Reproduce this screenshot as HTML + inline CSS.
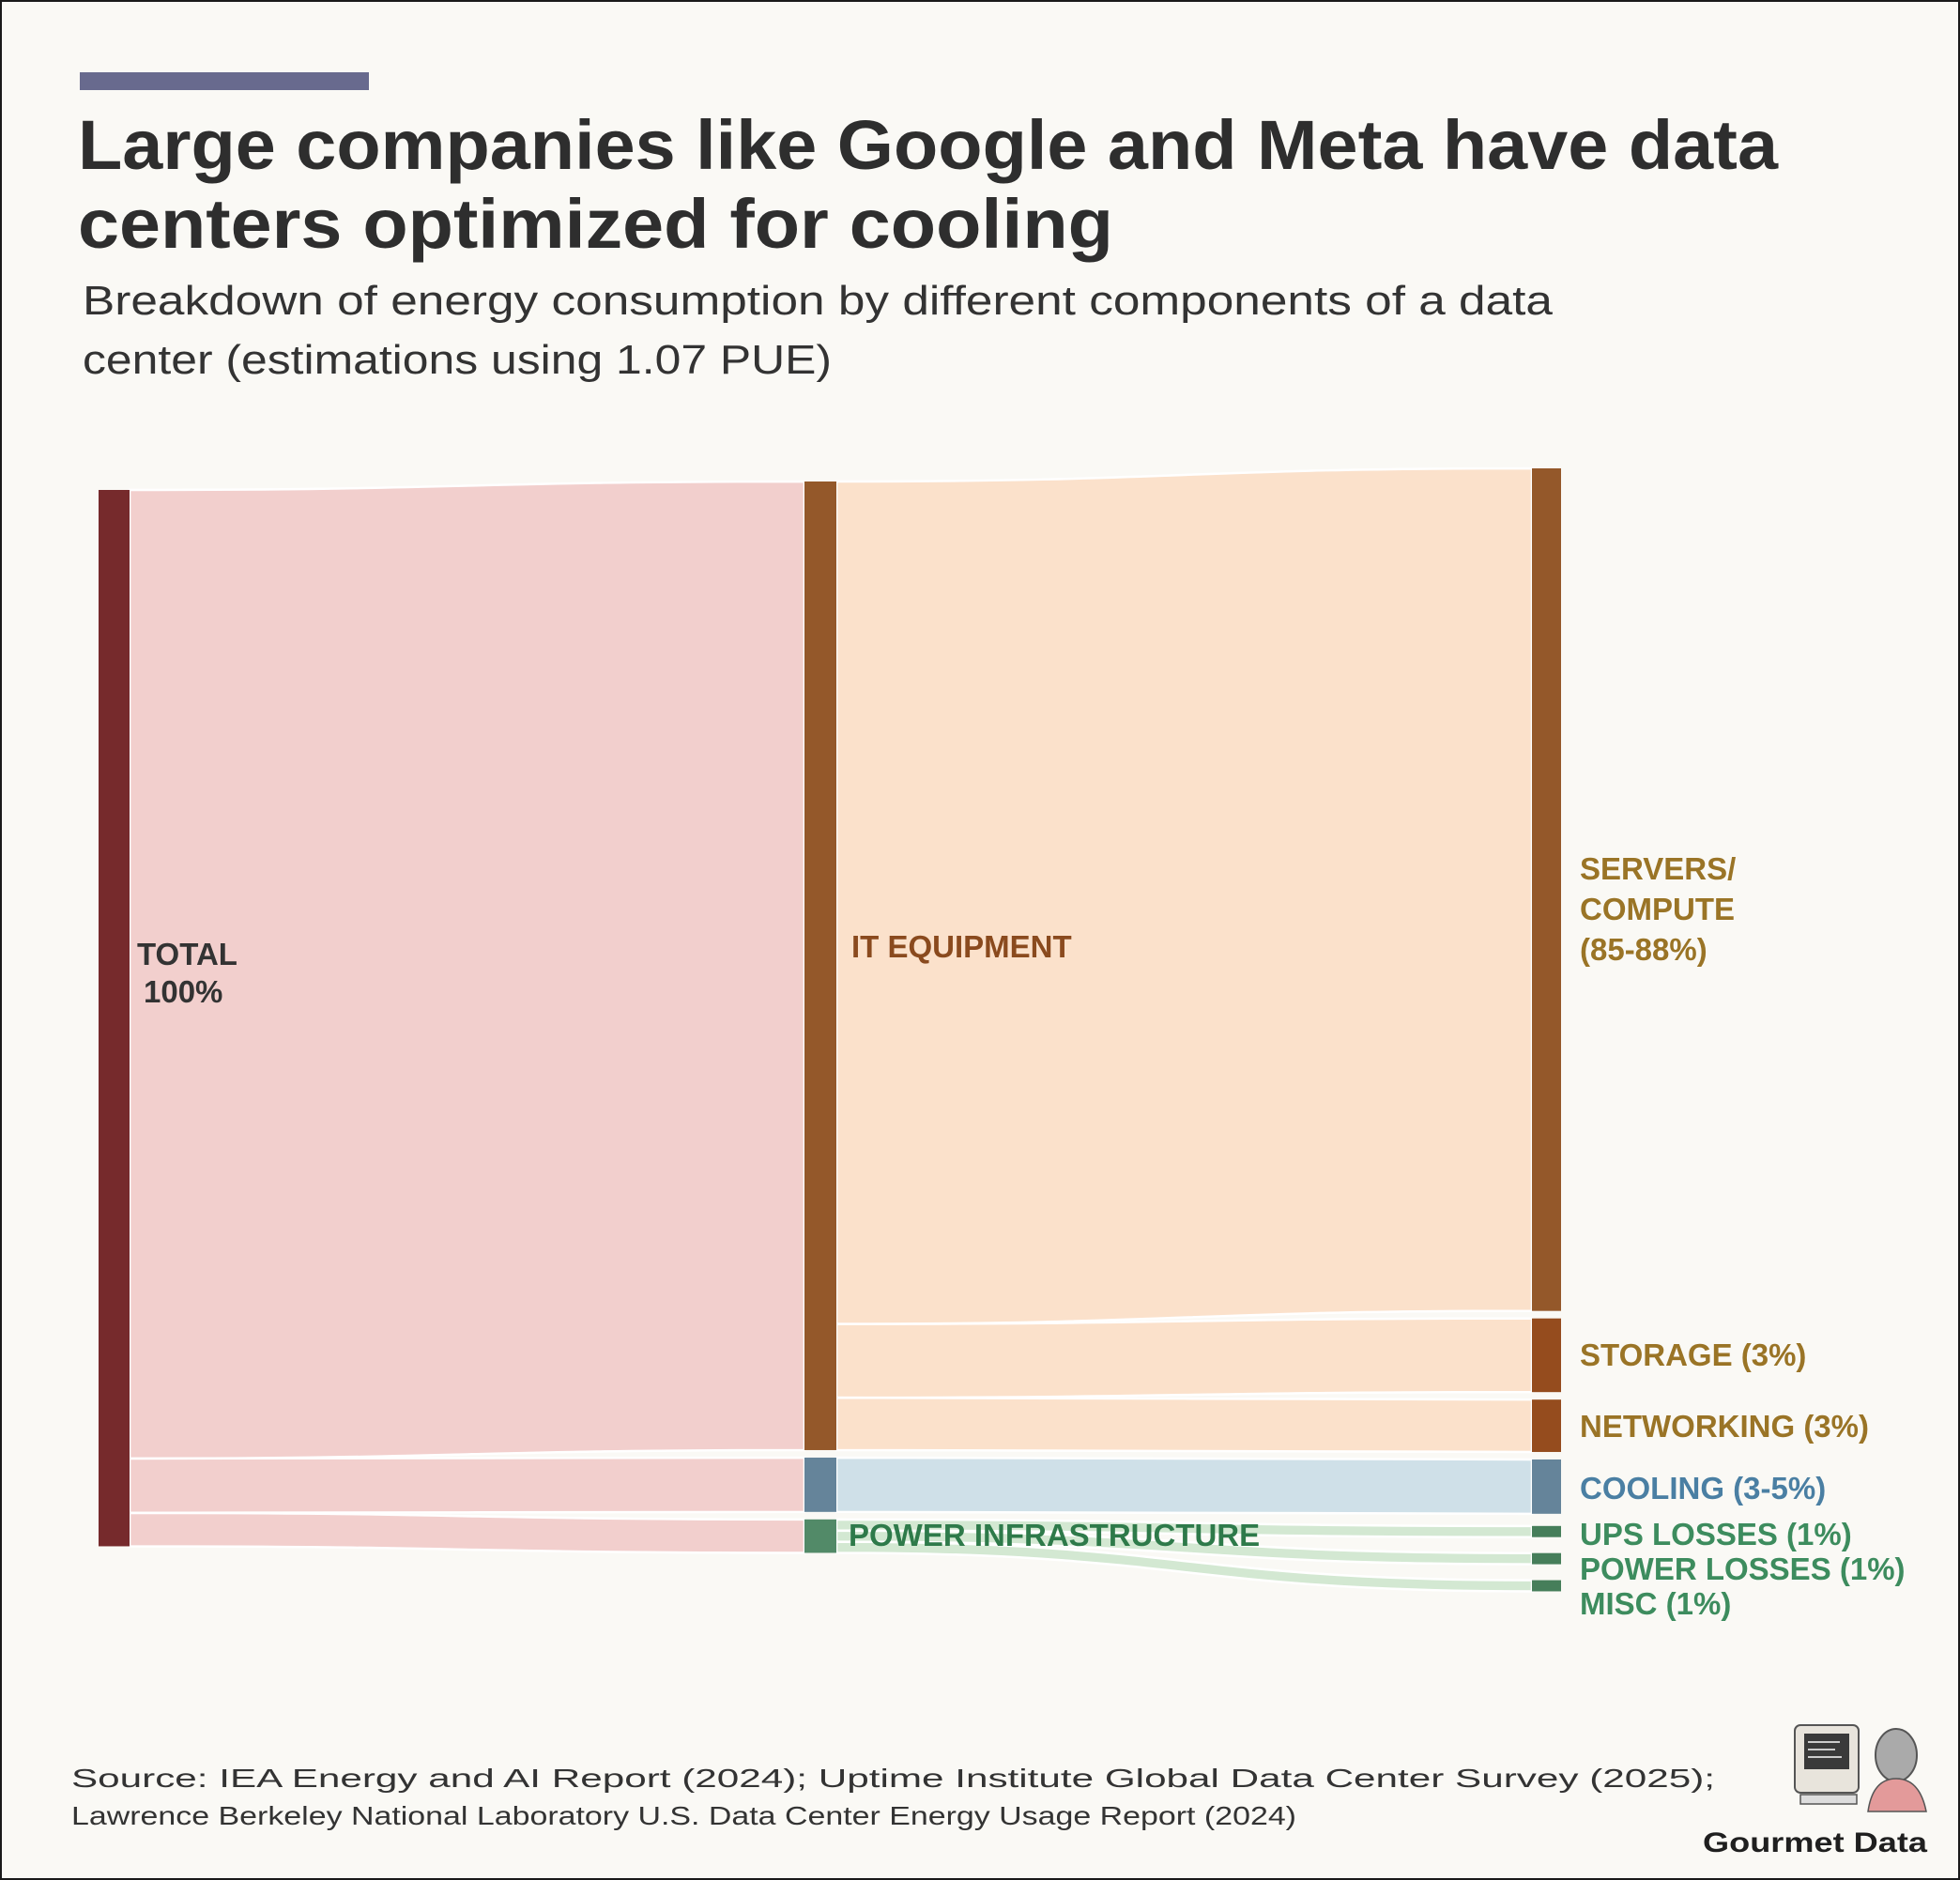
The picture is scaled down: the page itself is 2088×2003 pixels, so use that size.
<!DOCTYPE html>
<html><head><meta charset="utf-8"><style>
html,body{margin:0;padding:0;background:#faf9f5}
svg{display:block}
</style></head><body>
<svg id="chart" width="2088" height="2003" viewBox="0 0 2088 2003" xmlns="http://www.w3.org/2000/svg" font-family="'Liberation Sans', sans-serif">
<rect x="1" y="1" width="2086" height="2001" fill="#faf9f5" stroke="#1a1a1a" stroke-width="2"/>
<rect x="85" y="77" width="308" height="19" fill="#686a8e"/>
<text x="83" y="180" font-size="74" font-weight="bold" fill="#2e2e2e" textLength="1811" lengthAdjust="spacingAndGlyphs">Large companies like Google and Meta have data</text>
<text x="83" y="264" font-size="74" font-weight="bold" fill="#2e2e2e" textLength="1103" lengthAdjust="spacingAndGlyphs">centers optimized for cooling</text>
<text x="88" y="335" font-size="44" fill="#333" textLength="1566" lengthAdjust="spacingAndGlyphs">Breakdown of energy consumption by different components of a data</text>
<text x="88" y="398" font-size="44" fill="#333" textLength="798" lengthAdjust="spacingAndGlyphs">center (estimations using 1.07 PUE)</text>
<g id="links"></g>
<g id="nodes"></g>
<g font-weight="bold" font-size="33">
<text x="146" y="1028" fill="#333">TOTAL</text>
<text x="153" y="1068" fill="#333">100%</text>
<text x="907" y="1020" fill="#8a4a1e">IT EQUIPMENT</text>
<text x="904" y="1647" fill="#2e7a4a">POWER INFRASTRUCTURE</text>
<text x="1683" y="937" fill="#9a7426">SERVERS/</text>
<text x="1683" y="980" fill="#9a7426">COMPUTE</text>
<text x="1683" y="1023" fill="#9a7426">(85-88%)</text>
<text x="1683" y="1455" fill="#9a7426">STORAGE (3%)</text>
<text x="1683" y="1531" fill="#9a7426">NETWORKING (3%)</text>
<text x="1683" y="1597" fill="#4a7fa3">COOLING (3-5%)</text>
<text x="1683" y="1646" fill="#3d8c5e">UPS LOSSES (1%)</text>
<text x="1683" y="1683" fill="#3d8c5e">POWER LOSSES (1%)</text>
<text x="1683" y="1720" fill="#3d8c5e">MISC (1%)</text>
</g>
<text x="76" y="1904" font-size="28" fill="#333" textLength="1751" lengthAdjust="spacingAndGlyphs">Source: IEA Energy and AI Report (2024); Uptime Institute Global Data Center Survey (2025);</text>
<text x="76" y="1944" font-size="28" fill="#333" textLength="1305" lengthAdjust="spacingAndGlyphs">Lawrence Berkeley National Laboratory U.S. Data Center Energy Usage Report (2024)</text>
<g>
<rect x="1912" y="1838" width="68" height="72" rx="6" fill="#e8e4dc" stroke="#555" stroke-width="2"/>
<rect x="1922" y="1847" width="48" height="38" fill="#3a3a3a"/>
<line x1="1926" y1="1856" x2="1960" y2="1856" stroke="#ccc" stroke-width="2"/>
<line x1="1926" y1="1864" x2="1955" y2="1864" stroke="#ccc" stroke-width="2"/>
<line x1="1926" y1="1872" x2="1962" y2="1872" stroke="#ccc" stroke-width="2"/>
<rect x="1918" y="1912" width="60" height="10" fill="#ddd" stroke="#555" stroke-width="1.5"/>
<ellipse cx="2020" cy="1870" rx="22" ry="28" fill="#aaa" stroke="#555" stroke-width="2"/>
<path d="M1990 1930 Q1995 1895 2020 1895 Q2045 1895 2052 1930 Z" fill="#e39a9a" stroke="#555" stroke-width="1.5"/>
</g>
<text x="1814" y="1973" font-size="30" font-weight="bold" fill="#1f1f1f" textLength="239" lengthAdjust="spacingAndGlyphs">Gourmet Data</text>
</svg>
<script>
// data (units of energy share)
const nodeNames = ["Total","IT Equipment","Cooling","Power Infrastructure","Servers/Compute","Storage","Networking","Cooling Out","UPS Losses","Power Losses","Misc"];
const linkSources = [0,0,0,1,1,1,2,3,3,3];
const linkTargets = [1,2,3,4,5,6,7,8,9,10];
const linkValues = [99.9,5.6,3.45,86.9,7.6,5.4,5.6,1.15,1.15,1.15];

const NS="http://www.w3.org/2000/svg";
const K=10.33;
const colX=[105,857,1632], nodeW=[33,34,31];
const colTop=[522,513,499];
const nodeCol=[0,1,1,1,2,2,2,2,2,2,2];
const nodeFill=["#762a2c","#94582a","#65849a","#528a68","#94582a","#954c1e","#954c1e","#65849a","#467e5a","#467e5a","#467e5a"];
const linkFill=["#f2cfcd","#f2cfcd","#f2cfcd","#fbe1cb","#fbe1cb","#fbe1cb","#cfe0e8","#d3e8d2","#d3e8d2","#d3e8d2"];
const inV=nodeNames.map(()=>0), outV=nodeNames.map(()=>0);
linkValues.forEach((v,i)=>{outV[linkSources[i]]+=v;inV[linkTargets[i]]+=v;});
const val=nodeNames.map((n,i)=>Math.max(inV[i],outV[i]));
const y0=[],h=[];
const cursor=colTop.slice();
nodeNames.forEach((n,i)=>{
  const c=nodeCol[i];
  let gap=8;
  if(i>=8) gap=(i===8?13:17);
  if(i===0||i===1||i===4) gap=0;
  cursor[c]+=gap;
  y0[i]=cursor[c]; h[i]=val[i]*K; cursor[c]+=h[i];
});
const links=document.getElementById('links'), nodes=document.getElementById('nodes');
const sOff=nodeNames.map(()=>0), tOff=nodeNames.map(()=>0);
linkValues.forEach((v,i)=>{
  const s=linkSources[i], t=linkTargets[i], w=v*K;
  const sy=y0[s]+sOff[s]; sOff[s]+=w;
  const ty=y0[t]+tOff[t]; tOff[t]+=w;
  const x1=colX[nodeCol[s]]+nodeW[nodeCol[s]], x2=colX[nodeCol[t]];
  const mx=(x1+x2)/2;
  const d=`M${x1},${sy} C${mx},${sy} ${mx},${ty} ${x2},${ty} L${x2},${ty+w} C${mx},${ty+w} ${mx},${sy+w} ${x1},${sy+w} Z`;
  const p=document.createElementNS(NS,'path');
  p.setAttribute('d',d);p.setAttribute('fill',linkFill[i]);
  p.setAttribute('stroke','#ffffff');p.setAttribute('stroke-width','2.5');
  
  
  links.appendChild(p);
});
nodeNames.forEach((n,i)=>{
  const c=nodeCol[i];
  const r=document.createElementNS(NS,'rect');
  r.setAttribute('x',colX[c]);r.setAttribute('y',y0[i]);
  r.setAttribute('width',nodeW[c]);r.setAttribute('height',h[i]);
  r.setAttribute('fill',nodeFill[i]);
  
  
  nodes.appendChild(r);
});
</script>
</body></html>
